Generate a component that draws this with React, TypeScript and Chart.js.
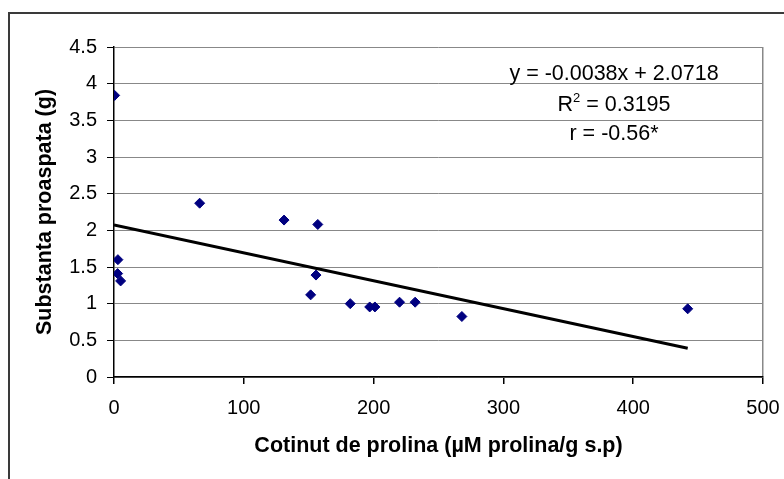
import React, { useEffect, useRef } from "react";
import { Chart, registerables } from "chart.js";

Chart.register(...registerables);

// ---- data ----
const prolina = [0.5, 3, 2.8, 5.1, 66, 131, 157, 151.5, 155.6, 182, 197, 201, 220, 232, 268, 442];
const substanta = [3.84, 1.6, 1.41, 1.31, 2.37, 2.14, 2.08, 1.12, 1.39, 1.0, 0.955, 0.955, 1.02, 1.02, 0.825, 0.93];

const trendSlope = -0.0038;
const trendIntercept = 2.0718;
const trendX = [0, 442];

const xTickValues = [0, 100, 200, 300, 400, 500];
const yTickValues = [0, 0.5, 1, 1.5, 2, 2.5, 3, 3.5, 4, 4.5];

const xTitle = "Cotinut de prolina (µM prolina/g s.p)";
const yTitle = "Substanta proaspata (g)";
const eqLine = "y = -0.0038x + 2.0718";
const r2Value = " = 0.3195";
const rLine = "r = -0.56*";

const FONT = '"Liberation Sans", Arial, sans-serif';

const framePlugin = {
  id: "frame",
  beforeDraw(chart: any) {
    const ctx = chart.ctx;
    ctx.save();
    ctx.fillStyle = "#ffffff";
    ctx.fillRect(0, 0, chart.width, chart.height);
    ctx.restore();
  },
  afterDraw(chart: any) {
    const ctx = chart.ctx;
    ctx.save();
    // outer chart border (top and left visible)
    ctx.strokeStyle = "#3a3a3a";
    ctx.lineWidth = 2;
    ctx.beginPath();
    ctx.moveTo(9, chart.height);
    ctx.lineTo(9, 13);
    ctx.lineTo(chart.width, 13);
    ctx.stroke();

    // trendline label
    const size = 21.5;
    ctx.fillStyle = "#000000";
    ctx.font = `${size}px ${FONT}`;
    ctx.textBaseline = "alphabetic";
    ctx.textAlign = "center";
    const cx = 614;
    ctx.fillText(eqLine, cx, 72 + size * 0.36);

    // R² line
    const supSize = Math.round(size * 0.62);
    ctx.font = `${size}px ${FONT}`;
    const wR = ctx.measureText("R").width;
    const wRest = ctx.measureText(r2Value).width;
    ctx.font = `${supSize}px ${FONT}`;
    const wSup = ctx.measureText("2").width;
    const total = wR + wSup + wRest;
    let x = cx - total / 2;
    const base2 = 103 + size * 0.36;
    ctx.textAlign = "left";
    ctx.font = `${size}px ${FONT}`;
    ctx.fillText("R", x, base2);
    x += wR;
    ctx.font = `${supSize}px ${FONT}`;
    ctx.fillText("2", x, base2 - size * 0.42);
    x += wSup;
    ctx.font = `${size}px ${FONT}`;
    ctx.fillText(r2Value, x, base2);

    ctx.textAlign = "center";
    ctx.fillText(rLine, cx, 132 + size * 0.36);
    ctx.restore();
  },
};

export default function App() {
  const canvasRef = useRef<HTMLCanvasElement | null>(null);

  useEffect(() => {
    const canvas = canvasRef.current;
    if (!canvas) return;

    const points = prolina.map((x, i) => ({ x, y: substanta[i] }));
    const trend = trendX.map((x) => ({ x, y: trendSlope * x + trendIntercept }));

    const chart = new Chart(canvas, {
      type: "scatter",
      data: {
        datasets: [
          {
            type: "line",
            label: "Trend",
            data: trend,
            borderColor: "#000000",
            borderWidth: 3,
            pointRadius: 0,
            fill: false,
            tension: 0,
          } as any,
          {
            label: "Date",
            data: points,
            pointStyle: "rectRot",
            pointRadius: 5,
            pointHoverRadius: 5,
            backgroundColor: "#000080",
            borderColor: "#000080",
            borderWidth: 1,
          },
        ],
      },
      options: {
        animation: false,
        responsive: false,
        devicePixelRatio: 1,
        events: [],
        layout: { padding: { left: 0, top: 47, right: 21, bottom: 0 } },
        plugins: {
          legend: { display: false },
          tooltip: { enabled: false },
        },
        scales: {
          x: {
            type: "linear",
            min: 0,
            max: 500,
            afterBuildTicks: (scale: any) => {
              scale.ticks = xTickValues.map((v) => ({ value: v }));
            },
            afterFit: (scale: any) => {
              scale.height = 102;
              scale.paddingRight = 0;
              scale.paddingLeft = 0;
            },
            ticks: {
              color: "#000000",
              font: { family: FONT, size: 20 },
              padding: 12,
              maxRotation: 0,
              callback: (v: any) => String(v),
            },
            grid: {
              drawTicks: true,
              tickLength: 7,
              color: (c: any) => (c.tick && c.tick.value === 500 ? "#888888" : "rgba(0,0,0,0)"),
              tickColor: "#000000",
              lineWidth: 1.5,
            },
            border: { display: true, color: "#000000", width: 1.5 },
            title: {
              display: true,
              text: xTitle,
              color: "#000000",
              font: { family: FONT, size: 21.5, weight: "bold" },
              padding: { top: 0, bottom: 20 },
            },
          },
          y: {
            type: "linear",
            min: 0,
            max: 4.5,
            afterBuildTicks: (scale: any) => {
              scale.ticks = yTickValues.map((v) => ({ value: v }));
            },
            afterFit: (scale: any) => {
              scale.width = 114;
            },
            ticks: {
              color: "#000000",
              font: { family: FONT, size: 20 },
              padding: 10,
              callback: (v: any) => String(v),
            },
            grid: {
              drawTicks: true,
              tickLength: 7,
              color: "#888888",
              tickColor: "#000000",
              lineWidth: 1,
            },
            border: { display: true, color: "#000000", width: 1.5 },
            title: {
              display: true,
              text: yTitle,
              color: "#000000",
              font: { family: FONT, size: 21.5, weight: "bold" },
              padding: { top: 32, bottom: 0 },
            },
          },
        },
      },
      plugins: [framePlugin],
    });

    return () => chart.destroy();
  }, []);

  return (
    <div style={{ position: "fixed", left: 0, top: 0, width: 784, height: 479, background: "#fff" }}>
      <canvas ref={canvasRef} width={784} height={479} style={{ width: 784, height: 479, display: "block" }} />
    </div>
  );
}
